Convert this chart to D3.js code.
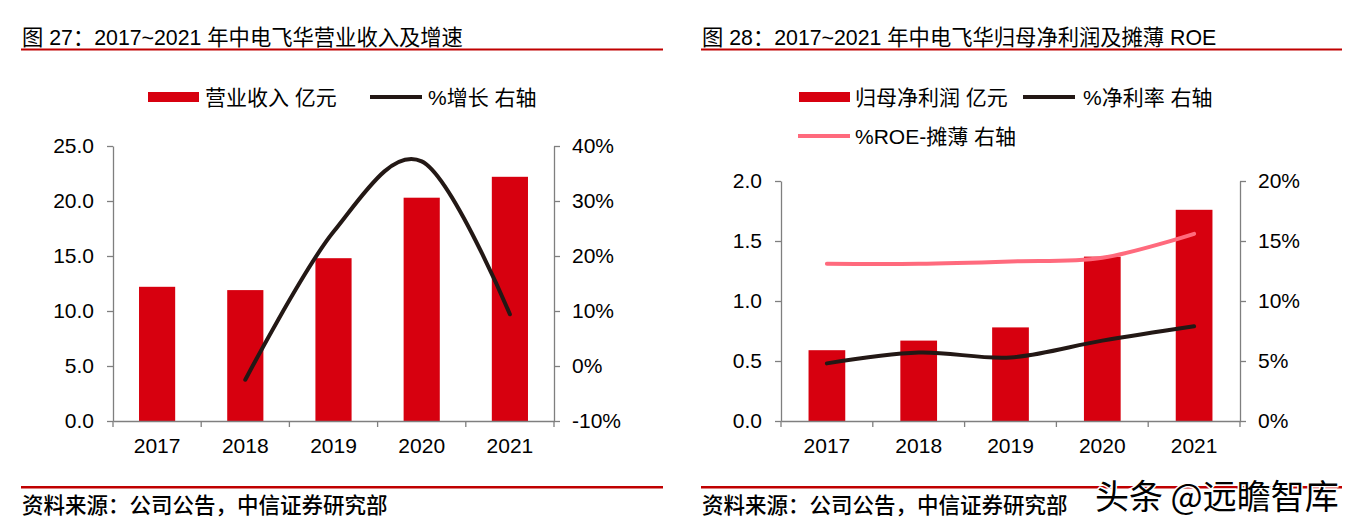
<!DOCTYPE html>
<html><head><meta charset="utf-8">
<script src="https://cdn.jsdelivr.net/npm/d3@7"></script>
<style>
body{margin:0;background:#fff;}
text{font-family:"Liberation Sans","Noto Sans CJK SC",sans-serif;fill:#000;}
</style></head><body>
<svg id="c" width="1362" height="531"></svg>
<script>
// ---------- data ----------
const years = ["2017", "2018", "2019", "2020", "2021"];
const revenue = [12.2, 11.9, 14.8, 20.3, 22.2];            // 亿元
const revenueGrowth = [null, -2.5, 24.4, 37.2, 9.4];       // %
const netProfit = [0.59, 0.67, 0.78, 1.37, 1.76];          // 亿元
const netMargin = [4.8, 5.7, 5.3, 6.7, 7.9];               // %
const roeDiluted = [13.1, 13.1, 13.3, 13.6, 15.6];         // %
const leftTicksA = [0, 5, 10, 15, 20, 25];
const rightTicksA = [-10, 0, 10, 20, 30, 40];
const leftTicksB = [0, 0.5, 1.0, 1.5, 2.0];
const rightTicksB = [0, 5, 10, 15, 20];
const titleA = "图 27：2017~2021 年中电飞华营业收入及增速";
const titleB = "图 28：2017~2021 年中电飞华归母净利润及摊薄 ROE";
const sourceText = "资料来源：公司公告，中信证券研究部";
const legendA = ["营业收入 亿元", "%增长 右轴"];
const legendB = ["归母净利润 亿元", "%净利率 右轴", "%ROE-摊薄 右轴"];
const watermark = "头条 @远瞻智库";

// ---------- styles ----------
const RED = "#D7000F", DARK = "#231815", PINK = "#FF6A7D", RULE = "#C00000", AXIS = "#7f7f7f";
const svg = d3.select("#c");

function panel(o) {
  const g = svg.append("g");
  // title + rules
  g.append("text").attr("x", o.titleX).attr("y", 45).attr("font-size", 21.3).text(o.title);
  g.append("rect").attr("x", o.ruleX0).attr("y", 48.5).attr("width", o.ruleX1 - o.ruleX0).attr("height", 2).attr("fill", RULE);
  g.append("rect").attr("x", o.ruleX0).attr("y", 486).attr("width", o.ruleX1 - o.ruleX0).attr("height", 2.5).attr("fill", RULE);
  g.append("text").attr("x", o.titleX).attr("y", 513).attr("font-size", 21.5).attr("font-weight", 500)
    .style("font-family", "'Noto Sans CJK SC'").text(sourceText);

  const x = d3.scaleBand().domain(years).range([o.x0, o.x1]).paddingInner(o.pad).paddingOuter(o.pad / 2);
  const yL = d3.scaleLinear().domain(o.leftDomain).range([o.yBot, o.yTop]);
  const yR = d3.scaleLinear().domain(o.rightDomain).range([o.yBot, o.yTop]);

  // bars
  g.selectAll(".bar").data(o.bars.map((v, i) => ({ y: years[i], v })))
    .join("rect").attr("fill", RED)
    .attr("x", d => x(d.y)).attr("width", x.bandwidth())
    .attr("y", d => yL(d.v)).attr("height", d => yL(0) - yL(d.v));

  // axes
  const axL = g.append("g").attr("transform", `translate(${o.x0},0)`)
    .call(d3.axisLeft(yL).tickValues(o.leftTicks).tickFormat(d3.format(".1f")).tickSize(6).tickSizeOuter(0).tickPadding(13));
  const axR = g.append("g").attr("transform", `translate(${o.x1},0)`)
    .call(d3.axisRight(yR).tickValues(o.rightTicks).tickFormat(d => d + "%").tickSize(6).tickSizeOuter(0).tickPadding(12));
  const axB = g.append("g").attr("transform", `translate(0,${o.yBot})`)
    .call(d3.axisBottom(x).tickSize(0).tickSizeOuter(0).tickPadding(17));
  [axL, axR, axB].forEach(a => {
    a.selectAll("path,line").attr("stroke", AXIS).attr("stroke-width", 1.3);
    a.selectAll("text").attr("font-size", 21).attr("fill", "#000")
      .style("font-family", "'Liberation Sans'");
  });
  // category boundary ticks
  const half = (x.step() - x.bandwidth()) / 2;
  const bounds = years.map(y => x(y) - half).concat([x.range()[1]]);
  g.selectAll(".bt").data(bounds).join("line")
    .attr("x1", d => d).attr("x2", d => d).attr("y1", o.yBot).attr("y2", o.yBot + 6)
    .attr("stroke", AXIS).attr("stroke-width", 1.3);

  // lines
  o.lines.forEach(L => {
    const pts = L.values.map((v, i) => ({ y: years[i], v })).filter(d => d.v != null);
    g.append("path").datum(pts)
      .attr("fill", "none").attr("stroke", L.color).attr("stroke-width", 4).attr("stroke-linecap", "round")
      .attr("d", d3.line().x(d => x(d.y) + x.bandwidth() / 2).y(d => yR(d.v)).curve(d3.curveCatmullRom.alpha(0)));
  });

  // legend
  o.legend.forEach(item => {
    if (item.type === "bar") {
      g.append("rect").attr("x", item.x).attr("y", item.y - 5).attr("width", 51).attr("height", 10).attr("fill", RED);
    } else {
      g.append("line").attr("x1", item.x).attr("x2", item.x + 52).attr("y1", item.y).attr("y2", item.y)
        .attr("stroke", item.color).attr("stroke-width", 4);
    }
    g.append("text").attr("x", item.tx).attr("y", item.y).attr("dy", "0.36em").attr("font-size", 21).text(item.label);
  });
}

panel({
  title: titleA, titleX: 22, ruleX0: 21, ruleX1: 663,
  x0: 113, x1: 554, yTop: 146, yBot: 421, pad: 0.59,
  leftDomain: [0, 25], rightDomain: [-10, 40], leftTicks: leftTicksA, rightTicks: rightTicksA,
  bars: revenue,
  lines: [{ values: revenueGrowth, color: DARK }],
  legend: [
    { type: "bar", x: 148, y: 97, tx: 205, label: legendA[0] },
    { type: "line", x: 370, y: 97, tx: 428, color: DARK, label: legendA[1] }
  ]
});

panel({
  title: titleB, titleX: 702, ruleX0: 701, ruleX1: 1342,
  x0: 781, x1: 1240, yTop: 181, yBot: 421, pad: 0.6,
  leftDomain: [0, 2], rightDomain: [0, 20], leftTicks: leftTicksB, rightTicks: rightTicksB,
  bars: netProfit,
  lines: [{ values: roeDiluted, color: PINK }, { values: netMargin, color: DARK }],
  legend: [
    { type: "bar", x: 799, y: 97, tx: 855, label: legendB[0] },
    { type: "line", x: 1023, y: 97, tx: 1083, color: DARK, label: legendB[1] },
    { type: "line", x: 798, y: 136, tx: 855, color: PINK, label: legendB[2] }
  ]
});

// watermark
svg.append("text").attr("x", 1095).attr("y", 509).attr("font-size", 34)
  .style("font-family", "'Noto Sans CJK SC'")
  .attr("fill", "#111").attr("stroke", "#fff").attr("stroke-width", 3).attr("paint-order", "stroke")
  .text(watermark);
</script>
</body></html>
